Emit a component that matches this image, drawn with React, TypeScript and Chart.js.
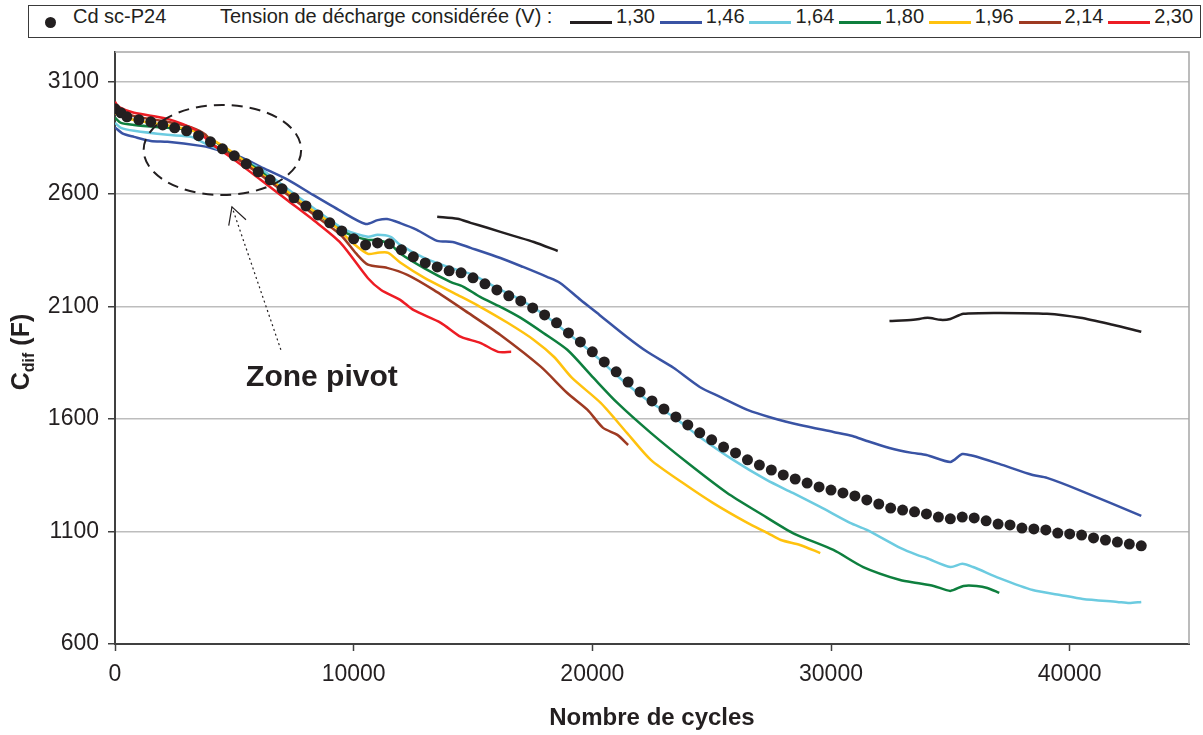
import React, { useEffect, useRef } from "react";
import { Chart, registerables } from "chart.js";

Chart.register(...registerables);

// ---------- data ----------
const cdCycles = [0, 250, 500, 1000, 1500, 2000, 2500, 3000, 3500, 4000, 4500, 5000, 5500, 6000, 6500, 7000, 7500, 8000, 8500, 9000, 9500, 10000, 10500, 11000, 11500, 12000, 12500, 13000, 13500, 14000, 14500, 15000, 15500, 16000, 16500, 17000, 17500, 18000, 18500, 19000, 19500, 20000, 20500, 21000, 21500, 22000, 22500, 23000, 23500, 24000, 24500, 25000, 25500, 26000, 26500, 27000, 27500, 28000, 28500, 29000, 29500, 30000, 30500, 31000, 31500, 32000, 32500, 33000, 33500, 34000, 34500, 35000, 35500, 36000, 36500, 37000, 37500, 38000, 38500, 39000, 39500, 40000, 40500, 41000, 41500, 42000, 42500, 43000];
const cdValues = [2978, 2960, 2942, 2929, 2920, 2906, 2893, 2880, 2858, 2831, 2800, 2769, 2733, 2698, 2662, 2622, 2582, 2546, 2506, 2471, 2435, 2400, 2373, 2382, 2378, 2351, 2320, 2293, 2275, 2258, 2249, 2227, 2200, 2173, 2147, 2124, 2093, 2062, 2027, 1982, 1942, 1898, 1853, 1809, 1764, 1720, 1680, 1644, 1609, 1573, 1538, 1507, 1475, 1449, 1418, 1395, 1373, 1351, 1333, 1315, 1298, 1284, 1271, 1258, 1240, 1222, 1204, 1195, 1187, 1178, 1164, 1156, 1164, 1160, 1147, 1133, 1129, 1115, 1111, 1107, 1093, 1089, 1084, 1071, 1062, 1053, 1044, 1036];

const v130CyclesA = [13500, 14350, 14900, 15600, 16700, 17550, 18550];
const v130ValuesA = [2498, 2489, 2471, 2449, 2413, 2386, 2346];
const v130CyclesB = [32450, 33450, 34050, 34600, 35000, 35550, 37100, 39050, 40450, 41800, 43000];
const v130ValuesB = [2035, 2040, 2049, 2040, 2044, 2067, 2071, 2067, 2049, 2018, 1987];

const v146Cycles = [0, 330, 800, 1500, 2200, 3600, 4000, 5250, 6100, 7250, 8300, 9450, 10500, 11000, 11400, 11950, 12650, 13500, 14150, 14900, 16150, 17100, 18100, 18650, 19500, 20300, 21450, 22300, 23400, 24500, 25350, 26500, 27550, 28700, 30100, 30900, 31500, 32450, 33400, 34000, 35000, 35500, 35950, 37050, 38450, 39050, 40400, 43000];
const v146Values = [2895, 2867, 2853, 2835, 2831, 2813, 2804, 2764, 2720, 2662, 2595, 2524, 2466, 2483, 2488, 2470, 2440, 2391, 2386, 2360, 2315, 2275, 2231, 2204, 2129, 2062, 1964, 1898, 1827, 1742, 1698, 1640, 1604, 1573, 1542, 1524, 1502, 1471, 1449, 1440, 1409, 1444, 1436, 1400, 1351, 1338, 1284, 1169];

const v164Cycles = [0, 250, 800, 2200, 3200, 3700, 4850, 6100, 7350, 8600, 9650, 10600, 11000, 11550, 11950, 12950, 13950, 15000, 16000, 17000, 18000, 19000, 20000, 21150, 22300, 23400, 24500, 25900, 27300, 28400, 29550, 30800, 31500, 32900, 33600, 34000, 35000, 35500, 35950, 37050, 38450, 39600, 40550, 42000, 42500, 43000];
const v164Values = [2915, 2893, 2880, 2862, 2853, 2827, 2773, 2711, 2612, 2515, 2440, 2409, 2418, 2409, 2373, 2315, 2275, 2240, 2182, 2129, 2062, 1978, 1893, 1782, 1684, 1609, 1520, 1418, 1329, 1271, 1209, 1138, 1107, 1027, 996, 982, 942, 956, 942, 893, 840, 818, 800, 787, 782, 787];

const v180Cycles = [0, 250, 800, 2200, 3200, 3800, 4850, 6100, 7350, 8600, 9650, 10600, 11000, 11550, 11950, 12950, 14050, 14600, 15300, 16150, 17000, 17950, 18950, 20050, 21050, 22450, 24000, 25650, 27000, 28400, 30100, 31350, 32900, 33600, 34300, 35000, 35550, 36100, 36550, 37050];
const v180Values = [2938, 2915, 2906, 2893, 2884, 2858, 2785, 2700, 2592, 2500, 2428, 2395, 2395, 2375, 2335, 2270, 2209, 2187, 2142, 2098, 2049, 1982, 1907, 1782, 1671, 1538, 1404, 1271, 1182, 1093, 1018, 942, 884, 871, 858, 836, 858, 858, 849, 827];

const v196Cycles = [0, 800, 2200, 3200, 3800, 4850, 6100, 7350, 8100, 9150, 10000, 10600, 11000, 11450, 11950, 12950, 14350, 15300, 16450, 17550, 18400, 19150, 20350, 21450, 22450, 23800, 25050, 26500, 27350, 27900, 28700, 29550];
const v196Values = [2958, 2928, 2905, 2882, 2856, 2790, 2690, 2600, 2540, 2462, 2378, 2333, 2338, 2338, 2295, 2228, 2151, 2098, 2027, 1951, 1875, 1782, 1671, 1538, 1418, 1315, 1227, 1138, 1093, 1062, 1040, 1004];

const v214Cycles = [0, 800, 2200, 3200, 3800, 4000, 5000, 6100, 7250, 8350, 9450, 10100, 10600, 11400, 12250, 13350, 14800, 16150, 17850, 18950, 19800, 20450, 21050, 21500];
const v214Values = [2985, 2945, 2920, 2895, 2862, 2826, 2764, 2684, 2595, 2506, 2418, 2335, 2285, 2271, 2240, 2173, 2071, 1973, 1831, 1715, 1640, 1560, 1529, 1484];

const v230Cycles = [0, 150, 800, 2200, 3450, 4000, 5000, 6100, 7250, 8350, 9450, 10600, 11150, 11950, 12500, 13650, 14500, 15300, 16050, 16600];
const v230Values = [3009, 2986, 2960, 2933, 2880, 2826, 2751, 2662, 2569, 2480, 2382, 2225, 2173, 2129, 2084, 2027, 1964, 1938, 1898, 1898];

const seriesLabels = ["1,30", "1,46", "1,64", "1,80", "1,96", "2,14", "2,30"];
const seriesColors = ["#231f20", "#3953a4", "#6ccbe0", "#0e7f3e", "#ffc20e", "#9e3a22", "#ed1c24"];

const xTickValues = [0, 10000, 20000, 30000, 40000];
const yTickValues = [600, 1100, 1600, 2100, 2600, 3100];

// annotation anchors (data coordinates)
const pivotEllipse = { x: 4500, y: 2795, rx: 3300, ry: 200 };
const pivotArrowTip = { x: 4900, y: 2542 };
const pivotArrowTail = { x: 6950, y: 1907 };
const pivotLabel = { x: 8670, y: 1782, text: "Zone pivot" };

const FONT = '"Liberation Sans", Arial, Helvetica, sans-serif';
const INK = "#231f20";

const toPoints = (xs: number[], ys: (number | null)[]) => xs.map((x, i) => ({ x, y: ys[i] }));

export default function App() {
  const ref = useRef<HTMLCanvasElement>(null);

  useEffect(() => {
    if (!ref.current) return;

    const annot = {
      id: "annot",
      beforeDatasetsDraw(chart: any) {
        const { ctx, chartArea: a } = chart;
        ctx.save();
        ctx.strokeStyle = "#a6a6a6";
        ctx.lineWidth = 1.5;
        ctx.beginPath();
        ctx.moveTo(a.left, a.top);
        ctx.lineTo(a.right, a.top);
        ctx.lineTo(a.right, a.bottom);
        ctx.stroke();
        ctx.restore();
      },
      afterDraw(chart: any) {
        const { ctx, chartArea: a } = chart;
        const xs = chart.scales.x;
        const ys = chart.scales.y;
        ctx.save();
        // dashed ellipse
        const cx = xs.getPixelForValue(pivotEllipse.x);
        const cy = ys.getPixelForValue(pivotEllipse.y);
        const rx = Math.abs(xs.getPixelForValue(pivotEllipse.x + pivotEllipse.rx) - cx);
        const ry = Math.abs(ys.getPixelForValue(pivotEllipse.y + pivotEllipse.ry) - cy);
        ctx.strokeStyle = INK;
        ctx.lineWidth = 2;
        ctx.setLineDash([11, 7]);
        ctx.beginPath();
        ctx.ellipse(cx, cy, rx, ry, 0, 0, Math.PI * 2);
        ctx.stroke();
        // dotted arrow
        const tx = xs.getPixelForValue(pivotArrowTip.x);
        const ty = ys.getPixelForValue(pivotArrowTip.y);
        const sx = xs.getPixelForValue(pivotArrowTail.x);
        const sy = ys.getPixelForValue(pivotArrowTail.y);
        ctx.lineWidth = 1.2;
        ctx.setLineDash([2, 3]);
        ctx.beginPath();
        ctx.moveTo(sx, sy);
        ctx.lineTo(tx, ty);
        ctx.stroke();
        ctx.setLineDash([]);
        const ang = Math.atan2(sy - ty, sx - tx);
        const L = 19;
        const sp = 0.5;
        ctx.beginPath();
        ctx.moveTo(tx + L * Math.cos(ang - sp), ty + L * Math.sin(ang - sp));
        ctx.lineTo(tx, ty);
        ctx.lineTo(tx + L * Math.cos(ang + sp), ty + L * Math.sin(ang + sp));
        ctx.stroke();
        // label
        ctx.fillStyle = INK;
        ctx.font = `bold 30px ${FONT}`;
        ctx.textAlign = "center";
        ctx.textBaseline = "middle";
        ctx.fillText(pivotLabel.text, xs.getPixelForValue(pivotLabel.x), ys.getPixelForValue(pivotLabel.y));
        // y-axis title with subscript
        const big = `bold 25px ${FONT}`;
        const small = `bold 16px ${FONT}`;
        ctx.font = big;
        const wC = ctx.measureText("C").width;
        const wF = ctx.measureText(" (F)").width;
        ctx.font = small;
        const wS = ctx.measureText("dif").width;
        const total = wC + wS + wF;
        ctx.translate(20, (a.top + a.bottom) / 2 + 4);
        ctx.rotate(-Math.PI / 2);
        ctx.textAlign = "left";
        ctx.textBaseline = "alphabetic";
        let px = -total / 2;
        ctx.font = big;
        ctx.fillText("C", px, 9);
        px += wC;
        ctx.font = small;
        ctx.fillText("dif", px, 14);
        px += wS;
        ctx.font = big;
        ctx.fillText(" (F)", px, 9);
        ctx.restore();
      },
    };

    const lineDs = (label: string, data: any[], color: string) => ({
      label,
      data,
      showLine: true,
      borderColor: color,
      backgroundColor: color,
      borderWidth: 2.5,
      pointRadius: 0,
      pointHoverRadius: 0,
      tension: 0.25,
      spanGaps: false,
      fill: false,
    });

    const chart = new Chart(ref.current, {
      type: "scatter",
      data: {
        datasets: [
          {
            label: "Cd sc-P24",
            data: toPoints(cdCycles, cdValues),
            showLine: false,
            pointRadius: 5.5,
            pointBorderWidth: 0,
            backgroundColor: INK,
            borderColor: INK,
          } as any,
          lineDs(seriesLabels[6], toPoints(v230Cycles, v230Values), seriesColors[6]),
          lineDs(seriesLabels[5], toPoints(v214Cycles, v214Values), seriesColors[5]),
          lineDs(seriesLabels[4], toPoints(v196Cycles, v196Values), seriesColors[4]),
          lineDs(seriesLabels[3], toPoints(v180Cycles, v180Values), seriesColors[3]),
          lineDs(seriesLabels[2], toPoints(v164Cycles, v164Values), seriesColors[2]),
          lineDs(seriesLabels[1], toPoints(v146Cycles, v146Values), seriesColors[1]),
          lineDs(
            seriesLabels[0],
            [...toPoints(v130CyclesA, v130ValuesA), { x: 25000, y: null }, ...toPoints(v130CyclesB, v130ValuesB)],
            seriesColors[0]
          ),
        ],
      },
      options: {
        animation: false,
        responsive: false,
        maintainAspectRatio: false,
        events: [],
        layout: { padding: { left: 0, right: 14, top: 52, bottom: 0 } },
        plugins: { legend: { display: false }, tooltip: { enabled: false }, title: { display: false } },
        scales: {
          x: {
            type: "linear",
            min: 0,
            max: 45000,
            afterBuildTicks: (s: any) => {
              s.ticks = xTickValues.map((v) => ({ value: v }));
            },
            afterFit: (s: any) => {
              s.height = 91;
            },
            ticks: {
              font: { family: FONT, size: 23 },
              color: INK,
              padding: 10,
              maxRotation: 0,
              autoSkip: false,
              callback: (v: any) => String(v),
            },
            grid: { drawOnChartArea: false, drawTicks: true, tickLength: 7, tickColor: "#404040", tickWidth: 1.5 },
            border: { color: "#404040", width: 2 },
            title: {
              display: true,
              text: "Nombre de cycles",
              font: { family: FONT, size: 24, weight: "bold" },
              color: INK,
              padding: { top: 0, bottom: 2 },
            },
          },
          y: {
            type: "linear",
            min: 600,
            max: 3230,
            afterBuildTicks: (s: any) => {
              s.ticks = yTickValues.map((v) => ({ value: v }));
            },
            afterFit: (s: any) => {
              s.width = 115;
            },
            ticks: {
              font: { family: FONT, size: 23 },
              color: INK,
              padding: 9,
              autoSkip: false,
              callback: (v: any) => String(v),
            },
            grid: { color: "#bdbdbd", lineWidth: 1.5, drawTicks: true, tickLength: 7, tickColor: "#404040", tickWidth: 1.5 },
            border: { color: "#404040", width: 2 },
          },
        },
      } as any,
      plugins: [annot],
    });

    return () => chart.destroy();
  }, []);

  const legendFont = `20px ${FONT}`;
  const itemStart = 570;
  const itemPitch = 89.7;

  return (
    <div style={{ position: "fixed", left: 0, top: 0, width: 1203, height: 735, background: "#fff", overflow: "hidden" }}>
      <canvas ref={ref} width={1203} height={735} style={{ display: "block", width: 1203, height: 735 }} />
      <div
        style={{
          position: "absolute",
          left: 28,
          top: 5,
          width: 1173,
          height: 33,
          border: "1.5px solid #3a3a3a",
          boxSizing: "border-box",
          background: "#fff",
        }}
      />
      <div style={{ position: "absolute", left: 45, top: 17, width: 11, height: 11, borderRadius: "50%", background: INK }} />
      <span style={{ position: "absolute", left: 73, top: 5, lineHeight: "33px", font: legendFont, color: INK, whiteSpace: "nowrap" }}>
        Cd sc-P24
      </span>
      <span style={{ position: "absolute", left: 220, top: 5, lineHeight: "33px", font: legendFont, color: INK, whiteSpace: "nowrap" }}>
        Tension de décharge considérée (V) :
      </span>
      {seriesLabels.map((lab, i) => {
        const left = itemStart + i * itemPitch;
        return (
          <React.Fragment key={lab}>
            <div style={{ position: "absolute", left, top: 20.5, width: 42, height: 3, background: seriesColors[i] }} />
            <span
              style={{
                position: "absolute",
                left: left + 46,
                top: 5,
                lineHeight: "33px",
                font: legendFont,
                color: INK,
                whiteSpace: "nowrap",
              }}
            >
              {lab}
            </span>
          </React.Fragment>
        );
      })}
    </div>
  );
}
